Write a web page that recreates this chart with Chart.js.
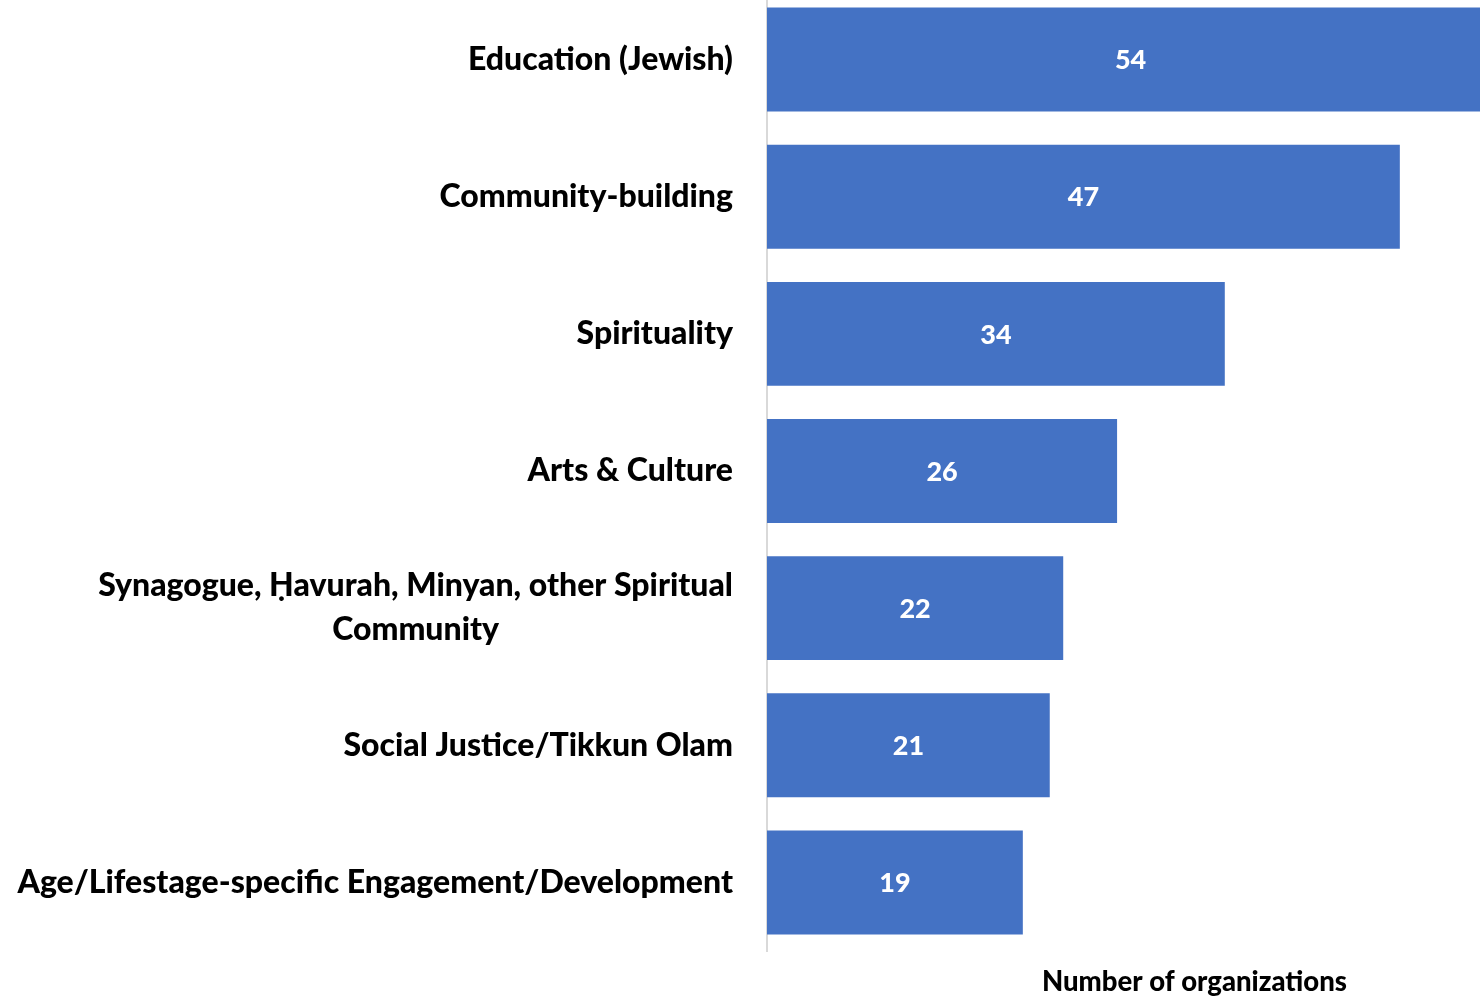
<!DOCTYPE html>
<html>
<head>
<meta charset="utf-8">
<script src="https://cdn.jsdelivr.net/npm/chart.js@4.4.1/dist/chart.umd.min.js"></script>
<style>
  html, body { margin:0; padding:0; background:#fff; overflow:hidden; width:1480px; height:999px; }
  #wrap { position:absolute; left:0; top:-9px; width:1622px; height:1008px; }
</style>
</head>
<body>
<div id="wrap"><canvas id="chart"></canvas></div>
<script>
// ================== Data ==================
const categories = [
  'Education (Jewish)',
  'Community-building',
  'Spirituality',
  'Arts & Culture',
  ['Synagogue, Ḥavurah, Minyan, other Spiritual', 'Community'],
  'Social Justice/Tikkun Olam',
  'Age/Lifestage-specific Engagement/Development'
];
const orgCounts = [54, 47, 34, 26, 22, 21, 19];
const axisTitle = 'Number of organizations';

const FONT = 'Lato, "Open Sans", sans-serif';
const BAR = '#4472C4';

// ================== Plugins ==================
// category labels: right-aligned block, lines centered inside it
const catLabels = {
  id: 'catLabels',
  afterDraw(chart){
    const ctx = chart.ctx, y = chart.scales.y;
    const right = y.right - 34;
    ctx.save();
    ctx.font = '900 32px ' + FONT;
    ctx.fillStyle = '#000';
    ctx.textBaseline = 'middle';
    ctx.textAlign = 'center';
    categories.forEach((c, i)=>{
      const lines = Array.isArray(c) ? c : [c];
      const w = Math.max(...lines.map(l=>ctx.measureText(l).width));
      const cx = right - w/2;
      const cy = y.getPixelForValue(i);
      const lh = 44;
      lines.forEach((l, k)=>{
        ctx.fillText(l, cx, cy + (k - (lines.length-1)/2)*lh);
      });
    });
    ctx.restore();
  }
};

// value labels in the middle of each bar
const valueLabels = {
  id: 'valueLabels',
  afterDatasetsDraw(chart){
    const ctx = chart.ctx;
    const meta = chart.getDatasetMeta(0);
    ctx.save();
    ctx.font = '900 27px ' + FONT;
    ctx.fillStyle = '#fff';
    ctx.textAlign = 'center';
    ctx.textBaseline = 'middle';
    meta.data.forEach((bar, i)=>{
      ctx.fillText(String(orgCounts[i]), (bar.x + bar.base)/2, bar.y + 1);
    });
    ctx.restore();
  }
};

// ================== Chart ==================
new Chart(document.getElementById('chart'), {
  type: 'bar',
  data: {
    labels: categories,
    datasets: [{ data: orgCounts, backgroundColor: BAR, barPercentage: 0.758, categoryPercentage: 1 }]
  },
  options: {
    indexAxis: 'y',
    responsive: true,
    maintainAspectRatio: false,
    animation: false,
    layout: { padding: 0 },
    plugins: { legend: { display: false }, tooltip: { enabled: false } },
    scales: {
      x: {
        min: 0, max: 63.5,
        grid: { display: false },
        border: { display: false },
        ticks: { display: false },
        title: { display: true, text: axisTitle, color: '#000', padding: 0, font: { family: FONT, size: 27.5, weight: '900' } },
        afterFit(s){ s.height = 48; }
      },
      y: {
        grid: { display: false },
        border: { display: true, color: '#D9D9D9', width: 2 },
        ticks: { display: false },
        afterFit(s){ s.width = 767; }
      }
    }
  },
  plugins: [catLabels, valueLabels]
});
</script>
</body>
</html>
